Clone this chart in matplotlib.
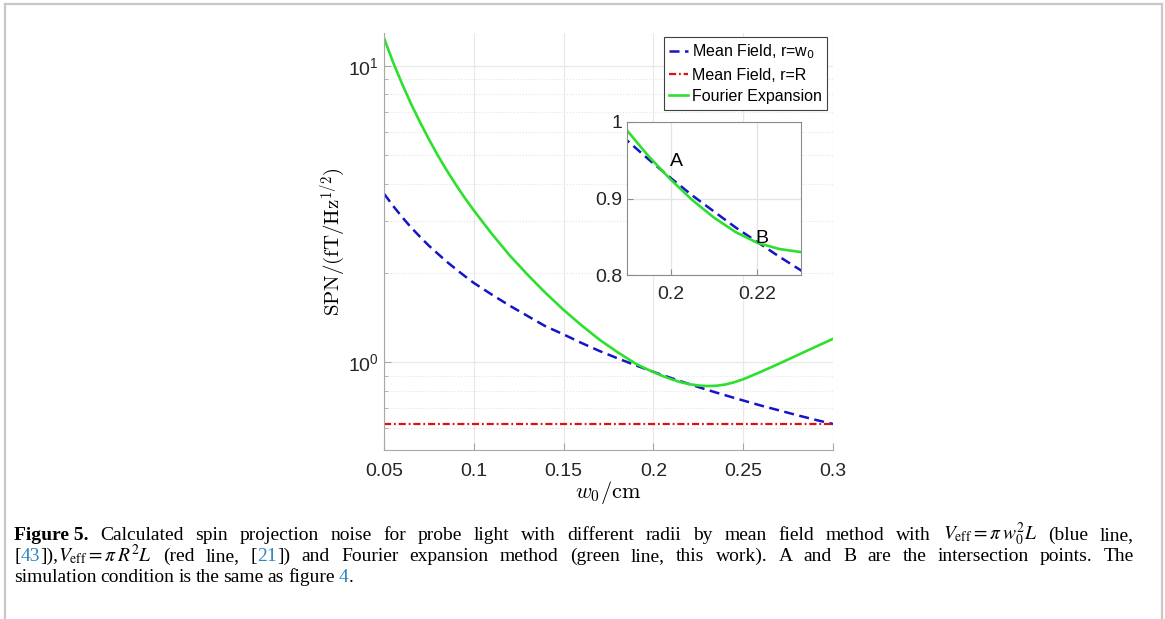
import matplotlib
matplotlib.use("Agg")
import matplotlib.pyplot as plt
from matplotlib.lines import Line2D
from matplotlib.ticker import FixedLocator, LogLocator, NullFormatter, FixedFormatter

plt.rcParams['font.family'] = ['Liberation Sans', 'DejaVu Sans']

# Valeurs
w0 = [0.05, 0.055, 0.06, 0.065, 0.07, 0.075, 0.08, 0.085, 0.09, 0.095, 0.10,
      0.11, 0.12, 0.13, 0.14, 0.15, 0.16, 0.17, 0.18, 0.19, 0.195, 0.20, 0.205,
      0.21, 0.215, 0.22, 0.225, 0.23, 0.235, 0.24, 0.245, 0.25, 0.26, 0.27,
      0.28, 0.29, 0.30]
spn_mean_w0 = [3.70, 3.37, 3.09, 2.85, 2.65, 2.47, 2.32, 2.18, 2.06, 1.95, 1.85,
               1.69, 1.55, 1.43, 1.32, 1.24, 1.16, 1.09, 1.03, 0.976, 0.951, 0.927, 0.904,
               0.883, 0.862, 0.843, 0.824, 0.806, 0.789, 0.773, 0.757, 0.742, 0.713, 0.687,
               0.662, 0.639, 0.618]
spn_fourier = [12.4, 10.3, 8.71, 7.45, 6.46, 5.65, 4.98, 4.43, 3.97, 3.58, 3.25,
               2.71, 2.29, 1.97, 1.71, 1.50, 1.33, 1.19, 1.08, 0.989, 0.955, 0.925, 0.898,
               0.875, 0.856, 0.842, 0.834, 0.830, 0.832, 0.840, 0.855, 0.875, 0.928, 0.988,
               1.054, 1.124, 1.198]
w0_red = [0.05, 0.30]
spn_mean_R = [0.616, 0.616]

x_ticks = [0.05, 0.1, 0.15, 0.2, 0.25, 0.3]
x_labels = ["0.05", "0.1", "0.15", "0.2", "0.25", "0.3"]
inset_xticks = [0.2, 0.22]
inset_xlabels = ["0.2", "0.22"]
inset_yticks = [0.8, 0.9, 1.0]
inset_ylabels = ["0.8", "0.9", "1"]
legend_labels = ["Mean Field, r=w$_0$", "Mean Field, r=R", "Fourier Expansion"]

BLUE = '#1414c8'
RED = '#e01010'
GREEN = '#2ee02e'
LINK = '#2f86c0'
W, H = 1165, 619

fig = plt.figure(figsize=(W / 100, H / 100), dpi=100)

# Axes principal
ax = fig.add_axes([384 / W, 1 - 450 / H, 449 / W, 417 / H])
l1, = ax.plot(w0, spn_mean_w0, color=BLUE, lw=1.8, dashes=(4, 2.2))
l2, = ax.plot(w0_red, spn_mean_R, color=RED, lw=1.6, dashes=(3.2, 1.3, 0.8, 1.3))
l3, = ax.plot(w0, spn_fourier, color=GREEN, lw=1.9)
ax.set_yscale('log')
ax.set_xlim(0.05, 0.3)
ax.set_ylim(0.505, 12.9)
ax.xaxis.set_major_locator(FixedLocator(x_ticks))
ax.xaxis.set_major_formatter(FixedFormatter(x_labels))
ax.yaxis.set_major_locator(FixedLocator([1, 10]))
ax.yaxis.set_minor_locator(LogLocator(base=10, subs=range(2, 10)))
ax.yaxis.set_minor_formatter(NullFormatter())
for s in ['top', 'right']:
    ax.spines[s].set_visible(False)
for s in ['left', 'bottom']:
    ax.spines[s].set_color('#a8a8a8')
ax.tick_params(which='both', direction='in', colors='#a8a8a8', labelcolor='#262626')
ax.tick_params(which='major', length=5, labelsize=14)
ax.tick_params(axis='x', pad=9)
ax.tick_params(which='minor', length=3)
ax.grid(True, which='major', color='#e8e8e8', lw=0.9)
ax.grid(True, which='minor', axis='y', color='#e4e4e4', lw=0.8, ls=':')
ax.set_axisbelow(True)
ax.set_xlabel(r'$w_0/\mathrm{cm}$', fontsize=16, math_fontfamily='cm', labelpad=0)
ax.set_ylabel(r'$\mathrm{SPN}/(\mathrm{fT}/\mathrm{Hz}^{1/2})$', fontsize=15,
              math_fontfamily='cm', labelpad=1)

leg = fig.legend([l1, l2, l3], legend_labels, loc='upper right',
                 bbox_to_anchor=(827 / W, 1 - 37 / H), borderaxespad=0,
                 fontsize=11.5, handlelength=1.2, handletextpad=0.2,
                 labelspacing=0.4, borderpad=0.35, fancybox=False, framealpha=1)
leg.get_frame().set_edgecolor('#404040')
leg.get_frame().set_linewidth(0.8)

# Encart
axi = fig.add_axes([627 / W, 1 - 275 / H, 174 / W, 153 / H])
axi.plot(w0, spn_mean_w0, color=BLUE, lw=1.8, dashes=(4, 2.2))
axi.plot(w0, spn_fourier, color=GREEN, lw=1.9)
axi.set_xlim(0.19, 0.23)
axi.set_ylim(0.8, 1.0)
axi.set_xticks(inset_xticks)
axi.set_xticklabels(inset_xlabels)
axi.set_yticks(inset_yticks)
axi.set_yticklabels(inset_ylabels)
for s in axi.spines.values():
    s.set_color('#8c8c8c')
axi.tick_params(direction='in', length=4, colors='#8c8c8c', labelcolor='#262626', labelsize=14)
axi.tick_params(axis='x', pad=8)
axi.grid(True, color='#e4e4e4', lw=0.9)
axi.set_axisbelow(True)
axi.text(0.2014, 0.948, 'A', fontsize=14, ha='center', va='center')
axi.text(0.2211, 0.848, 'B', fontsize=14, ha='center', va='center')

# Cadre de la page
frame_kw = dict(color='#c8c8c8', lw=1.6, transform=fig.transFigure)
fig.add_artist(Line2D([5 / W, 1162 / W], [1 - 4 / H, 1 - 4 / H], **frame_kw))
fig.add_artist(Line2D([5 / W, 5 / W], [0, 1 - 4 / H], **frame_kw))
fig.add_artist(Line2D([1162 / W, 1162 / W], [0, 1 - 4 / H], **frame_kw))

# Légende de la figure (texte justifié)
K = 'black'
cap_lines = [
    [[("Figure 5.", K, 'bold')], [("Calculated", K, 'normal')], [("spin", K, 'normal')],
     [("projection", K, 'normal')], [("noise", K, 'normal')], [("for", K, 'normal')],
     [("probe", K, 'normal')], [("light", K, 'normal')], [("with", K, 'normal')],
     [("different", K, 'normal')], [("radii", K, 'normal')], [("by", K, 'normal')],
     [("mean", K, 'normal')], [("field", K, 'normal')], [("method", K, 'normal')],
     [("with", K, 'normal')], [(r"$V_{\rm eff} = \pi\, w_0^2 L$", K, 'normal')],
     [("(blue", K, 'normal')], [("line,", K, 'normal')]],
    [[("[", K, 'normal'), ("43", LINK, 'normal'), ("]),", K, 'normal'),
      (r"$V_{\rm eff} = \pi\, R^2 L$", K, 'normal')],
     [("(red", K, 'normal')], [("line,", K, 'normal')],
     [("[", K, 'normal'), ("21", LINK, 'normal'), ("])", K, 'normal')],
     [("and", K, 'normal')], [("Fourier", K, 'normal')], [("expansion", K, 'normal')],
     [("method", K, 'normal')], [("(green", K, 'normal')], [("line,", K, 'normal')],
     [("this", K, 'normal')], [("work).", K, 'normal')], [("A", K, 'normal')],
     [("and", K, 'normal')], [("B", K, 'normal')], [("are", K, 'normal')],
     [("the", K, 'normal')], [("intersection", K, 'normal')], [("points.", K, 'normal')],
     [("The", K, 'normal')]],
    [[("simulation", K, 'normal')], [("condition", K, 'normal')], [("is", K, 'normal')],
     [("the", K, 'normal')], [("same", K, 'normal')], [("as", K, 'normal')],
     [("figure", K, 'normal')], [("4", LINK, 'normal'), (".", K, 'normal')]],
]
cap_y = [535, 556, 577]
justify = [True, True, False]
x_left, x_right = 14, 1134
cap_size = 14
renderer = fig.canvas.get_renderer()


def make_word(parts, x, y):
    arts = []
    cx = x
    for txt, col, wt in parts:
        t = fig.text(cx / W, 1 - y / H, txt, color=col, fontweight=wt, fontsize=cap_size,
                     family=['Liberation Serif', 'DejaVu Serif'], math_fontfamily='stix',
                     va='baseline', ha='left')
        cx += t.get_window_extent(renderer).width
        arts.append(t)
    return arts, cx - x


for line, y, just in zip(cap_lines, cap_y, justify):
    y_base = y + 5
    widths = []
    for word in line:
        arts, wd = make_word(word, 0, y_base)
        widths.append(wd)
        for a in arts:
            a.remove()
    space = 4.0
    if just:
        space = (x_right - x_left - sum(widths)) / (len(line) - 1)
    x = x_left
    for word, wd in zip(line, widths):
        make_word(word, x, y_base)
        x += wd + space

fig.savefig('out.png', dpi=100)
